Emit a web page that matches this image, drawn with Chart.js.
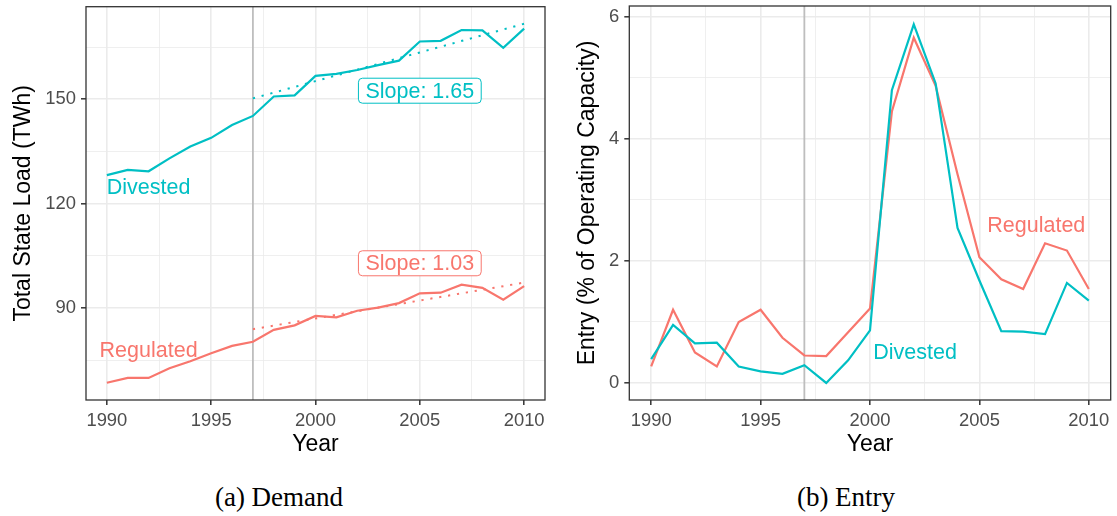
<!DOCTYPE html>
<html lang="en">
<head>
<meta charset="UTF-8">
<title>Demand and Entry</title>
<script src="https://cdn.jsdelivr.net/npm/chart.js"></script>
<style>
  body { margin: 0; background: #fff; }
  #wrap { position: relative; width: 1117px; height: 516px; }
  canvas { position: absolute; top: 0; }
  .caption {
    position: absolute; transform: translate(-50%, -50%); white-space: nowrap;
    font-family: "Liberation Serif", serif; font-size: 27px; color: #000;
  }
</style>
</head>
<body>
<div id="wrap">
  <canvas id="demandChart" width="558" height="470" style="left:0"></canvas>
  <canvas id="entryChart" width="559" height="470" style="left:558px"></canvas>
  <div class="caption" style="left:279px; top:497px">(a) Demand</div>
  <div class="caption" style="left:846px; top:497px">(b) Entry</div>
</div>

<script>
// data
const years = [1990, 1991, 1992, 1993, 1994, 1995, 1996, 1997, 1998, 1999, 2000,
               2001, 2002, 2003, 2004, 2005, 2006, 2007, 2008, 2009, 2010];

// total state load (TWh)
const loadDivested  = [128.2, 129.7, 129.3, 133.0, 136.4, 138.9, 142.6, 145.2, 150.8, 151.1, 156.7,
                       157.3, 158.4, 159.8, 161.1, 166.6, 166.8, 169.9, 169.8, 164.8, 170.3];
const loadRegulated = [68.5, 69.9, 69.9, 72.7, 74.7, 77.0, 79.1, 80.3, 83.7, 85.0, 87.7,
                       87.3, 89.2, 90.1, 91.4, 94.2, 94.4, 96.7, 95.8, 92.4, 96.3];

// post-1997 trend lines (end points)
const fitYears = [1997, 2010];
const fitDivested  = [150.25, 171.7];
const fitRegulated = [83.9, 97.3];

// entry (% of operating capacity)
const entryDivested  = [0.39, 0.95, 0.65, 0.66, 0.27, 0.19, 0.15, 0.29, 0.00, 0.37, 0.86,
                        4.80, 5.88, 4.91, 2.54, 1.68, 0.85, 0.84, 0.80, 1.64, 1.35];
const entryRegulated = [0.27, 1.20, 0.50, 0.27, 1.00, 1.20, 0.74, 0.45, 0.44, 0.83, 1.22,
                        4.45, 5.66, 4.87, 3.42, 2.06, 1.70, 1.54, 2.29, 2.17, 1.54];

const treatYear = 1997;

// tick positions
const xMajor = [1990, 1995, 2000, 2005, 2010];
const xMinor = [1992.5, 1997.5, 2002.5, 2007.5];
const loadMajor = [90, 120, 150];
const loadMinor = [75, 105, 135, 165];
const entryMajor = [0, 2, 4, 6];
const entryMinor = [1, 3, 5];

const TEAL = '#00BFC4';
const RED = '#F8766D';
const FONT = '"Liberation Sans", Arial, sans-serif';

function pts(xs, ys) { return xs.map((x, i) => ({x: x, y: ys[i]})); }

function axis(min, max, major, minor, titleText, titlePad, isX) {
  const all = major.concat(minor).sort((a, b) => a - b);
  const isMaj = v => major.includes(v);
  return {
    type: 'linear', min: min, max: max,
    afterBuildTicks: s => { s.ticks = all.map(v => ({value: v})); },
    afterFit: s => {
      if (isX) { s.height = 70; s.paddingLeft = 0; s.paddingRight = 0; }
      else { s.width = titlePad.width; s.paddingTop = 0; s.paddingBottom = 0; }
    },
    border: {display: false},
    grid: {
      color: '#ebebeb',
      lineWidth: c => isMaj(c.tick.value) ? 1.6 : 0.8,
      drawTicks: true,
      tickLength: 5,
      tickColor: c => isMaj(c.tick.value) ? '#333333' : 'rgba(0,0,0,0)',
      tickWidth: 1.5
    },
    ticks: {
      autoSkip: false, maxRotation: 0, padding: 5,
      color: '#4d4d4d', font: {family: FONT, size: 18.4},
      callback: v => isMaj(v) ? String(v) : ''
    },
    title: {
      display: true, text: titleText, color: '#000',
      font: {family: FONT, size: 23},
      padding: isX ? {top: 0, bottom: titlePad} : {top: titlePad.title, bottom: 0}
    }
  };
}

const panelExtras = {
  id: 'panelExtras',
  beforeDatasetsDraw(chart, args, opts) {
    const {ctx, chartArea: a, scales: {x}} = chart;
    const px = x.getPixelForValue(treatYear);
    ctx.save();
    ctx.strokeStyle = '#bebebe';
    ctx.lineWidth = 1.8;
    ctx.beginPath();
    ctx.moveTo(px, a.top);
    ctx.lineTo(px, a.bottom);
    ctx.stroke();
    ctx.restore();
  },
  afterDatasetsDraw(chart, args, opts) {
    const {ctx, chartArea: a, scales: {x, y}} = chart;
    ctx.save();
    ctx.strokeStyle = '#333333';
    ctx.lineWidth = 1.3;
    ctx.strokeRect(a.left, a.top, a.right - a.left, a.bottom - a.top);
    ctx.font = '21.5px ' + FONT;
    ctx.textAlign = 'center';
    ctx.textBaseline = 'middle';
    (opts.notes || []).forEach(n => {
      const px = x.getPixelForValue(n.x), py = y.getPixelForValue(n.y);
      if (n.boxed) {
        const w = ctx.measureText(n.text).width + 14, h = 25;
        ctx.beginPath();
        ctx.roundRect(px - w / 2, py - h / 2, w, h, 4);
        ctx.fillStyle = '#fff';
        ctx.fill();
        ctx.strokeStyle = n.color;
        ctx.lineWidth = 1;
        ctx.stroke();
      }
      ctx.fillStyle = n.color;
      ctx.fillText(n.text, px, py + 1);
    });
    ctx.restore();
  }
};

function line(data, color, dotted) {
  return {
    data: data, borderColor: color, borderWidth: dotted ? 2 : 2.2,
    borderDash: dotted ? [2.2, 6.8] : [], pointRadius: 0, tension: 0, fill: false
  };
}

// (a) Demand
new Chart(document.getElementById('demandChart'), {
  type: 'line',
  data: {
    datasets: [
      line(pts(years, loadDivested), TEAL, false),
      line(pts(years, loadRegulated), RED, false),
      line(pts(fitYears, fitDivested), TEAL, true),
      line(pts(fitYears, fitRegulated), RED, true)
    ]
  },
  options: {
    responsive: false, animation: false,
    layout: {padding: {left: 0, top: 6.7, right: 13, bottom: 0}},
    plugins: {
      legend: {display: false}, tooltip: {enabled: false},
      panelExtras: {notes: [
        {text: 'Divested', x: 1992.0, y: 124.7, color: TEAL},
        {text: 'Regulated', x: 1992.0, y: 77.9, color: RED},
        {text: 'Slope: 1.65', x: 2005, y: 152.45, color: TEAL, boxed: true},
        {text: 'Slope: 1.03', x: 2005, y: 102.85, color: RED, boxed: true}
      ]}
    },
    scales: {
      x: axis(1989, 2011, xMajor, xMinor, 'Year', 11.2, true),
      y: axis(63.55, 176.6, loadMajor, loadMinor, 'Total State Load (TWh)', {width: 86, title: 10.2}, false)
    }
  },
  plugins: [panelExtras]
});

// (b) Entry
new Chart(document.getElementById('entryChart'), {
  type: 'line',
  data: {
    datasets: [
      line(pts(years, entryDivested), TEAL, false),
      line(pts(years, entryRegulated), RED, false)
    ]
  },
  options: {
    responsive: false, animation: false,
    layout: {padding: {left: 0, top: 6, right: 6.3, bottom: 0}},
    plugins: {
      legend: {display: false}, tooltip: {enabled: false},
      panelExtras: {notes: [
        {text: 'Regulated', x: 2007.6, y: 2.58, color: RED},
        {text: 'Divested', x: 2002.06, y: 0.50, color: TEAL}
      ]}
    },
    scales: {
      x: axis(1989, 2011, xMajor, xMinor, 'Year', 11.2, true),
      y: axis(-0.28, 6.18, entryMajor, entryMinor, 'Entry (% of Operating Capacity)', {width: 71.3, title: 16.2}, false)
    }
  },
  plugins: [panelExtras]
});
</script>
</body>
</html>
